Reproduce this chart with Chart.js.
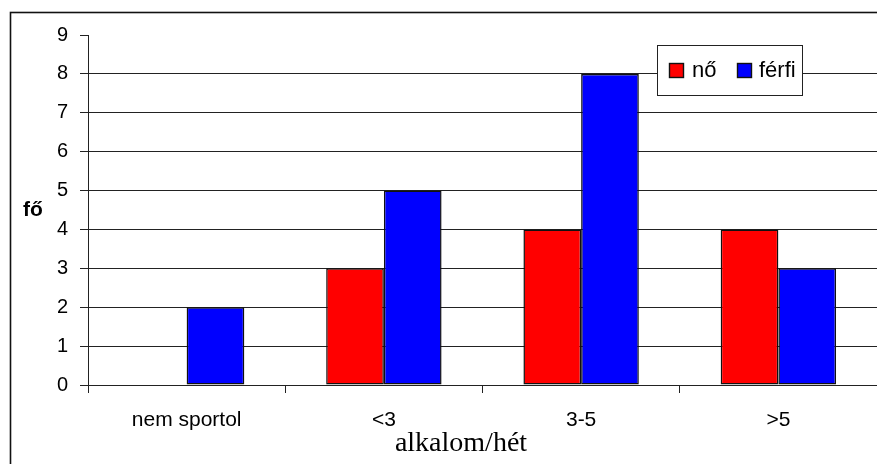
<!DOCTYPE html>
<html>
<head>
<meta charset="utf-8">
<script src="https://cdn.jsdelivr.net/npm/chart.js@4"></script>
<style>
  html, body { margin: 0; padding: 0; background: #fff; }
  #wrap { width: 877px; height: 464px; }
</style>
</head>
<body>
<div id="wrap"><canvas id="c" width="877" height="464"></canvas></div>
<script>
// Sports frequency per week, split by gender
const categories = ['nem sportol', '<3', '3-5', '>5'];
const noValues = [0, 3, 4, 4];
const ferfiValues = [2, 5, 8, 3];
const seriesNames = ['nő', 'férfi'];
const yTicks = [0, 1, 2, 3, 4, 5, 6, 7, 8, 9];
const yTitle = 'fő';
const xTitle = 'alkalom/hét';

const SANS = '"Liberation Sans", Arial, sans-serif';
const SERIF = '"Liberation Serif", "Times New Roman", serif';

// Frame, horizontal axis title, vertical axis title and boxed legend
const decorations = {
  id: 'decorations',
  beforeDraw(chart) {
    const ctx = chart.ctx;
    ctx.save();
    ctx.fillStyle = '#fff';
    ctx.fillRect(0, 0, chart.width, chart.height);
    ctx.restore();
  },
  afterDraw(chart) {
    const ctx = chart.ctx;
    const area = chart.chartArea;
    ctx.save();
    // outer frame
    ctx.strokeStyle = '#111';
    ctx.lineWidth = 1.6;
    ctx.strokeRect(10.5, 12.5, 1000, 1000);

    // vertical axis title (horizontal text)
    ctx.fillStyle = '#000';
    ctx.font = 'bold 21px ' + SANS;
    ctx.textAlign = 'center';
    ctx.textBaseline = 'middle';
    ctx.fillText(yTitle, 33, (area.top + area.bottom) / 2);

    // horizontal axis title
    ctx.font = '28px ' + SERIF;
    ctx.textBaseline = 'alphabetic';
    ctx.fillText(xTitle, 461, 451);

    // legend box
    const bx = 657.5, by = 45.5, bw = 145, bh = 50;
    ctx.fillStyle = '#fff';
    ctx.fillRect(bx, by, bw, bh);
    ctx.strokeStyle = '#222';
    ctx.lineWidth = 1;
    ctx.strokeRect(bx, by, bw, bh);
    const items = chart.data.datasets.map(d => ({ label: d.label, color: d.backgroundColor }));
    const swX = [669.5, 737.5];
    const txX = [692, 759];
    ctx.font = '22px ' + SANS;
    ctx.textAlign = 'left';
    ctx.textBaseline = 'middle';
    items.forEach((it, i) => {
      ctx.fillStyle = it.color;
      ctx.fillRect(swX[i], 63.5, 14, 14);
      ctx.strokeStyle = '#111';
      ctx.lineWidth = 1.4;
      ctx.strokeRect(swX[i], 63.5, 14, 14);
      ctx.fillStyle = '#000';
      ctx.fillText(it.label, txX[i], 71);
    });
    ctx.restore();
  }
};

new Chart(document.getElementById('c'), {
  type: 'bar',
  data: {
    labels: categories,
    datasets: [
      { label: seriesNames[0], data: noValues, backgroundColor: '#ff0000', borderColor: '#111', borderWidth: 1.5, borderSkipped: false },
      { label: seriesNames[1], data: ferfiValues, backgroundColor: '#0000ff', borderColor: '#111', borderWidth: 1.5, borderSkipped: false }
    ]
  },
  options: {
    responsive: false,
    animation: false,
    devicePixelRatio: 1,
    layout: { padding: { top: 35, right: 0, left: 0, bottom: 0 } },
    datasets: { bar: { categoryPercentage: 0.585, barPercentage: 1.0 } },
    plugins: {
      legend: { display: false },
      tooltip: { enabled: false },
      title: { display: false }
    },
    scales: {
      x: {
        offset: true,
        grid: {
          offset: true,
          drawOnChartArea: false,
          drawTicks: true,
          tickLength: 8,
          color: '#222',
          lineWidth: 1
        },
        border: { display: true, color: '#222', width: 1 },
        ticks: {
          color: '#000',
          font: { family: SANS, size: 21 },
          padding: 15,
          maxRotation: 0,
          autoSkip: false
        },
        afterFit(scale) { scale.height = 79; }
      },
      y: {
        min: 0,
        max: 9,
        afterBuildTicks(scale) { scale.ticks = yTicks.map(v => ({ value: v })); },
        grid: {
          drawTicks: true,
          tickLength: 8,
          color: c => (c.tick && c.tick.value === 9 ? 'rgba(0,0,0,0)' : '#222'),
          tickColor: '#222',
          lineWidth: 1
        },
        border: { display: true, color: '#222', width: 1 },
        ticks: {
          color: '#000',
          font: { family: SANS, size: 20 },
          padding: 12
        },
        afterFit(scale) { scale.width = 88; }
      }
    }
  },
  plugins: [decorations]
});
</script>
</body>
</html>
